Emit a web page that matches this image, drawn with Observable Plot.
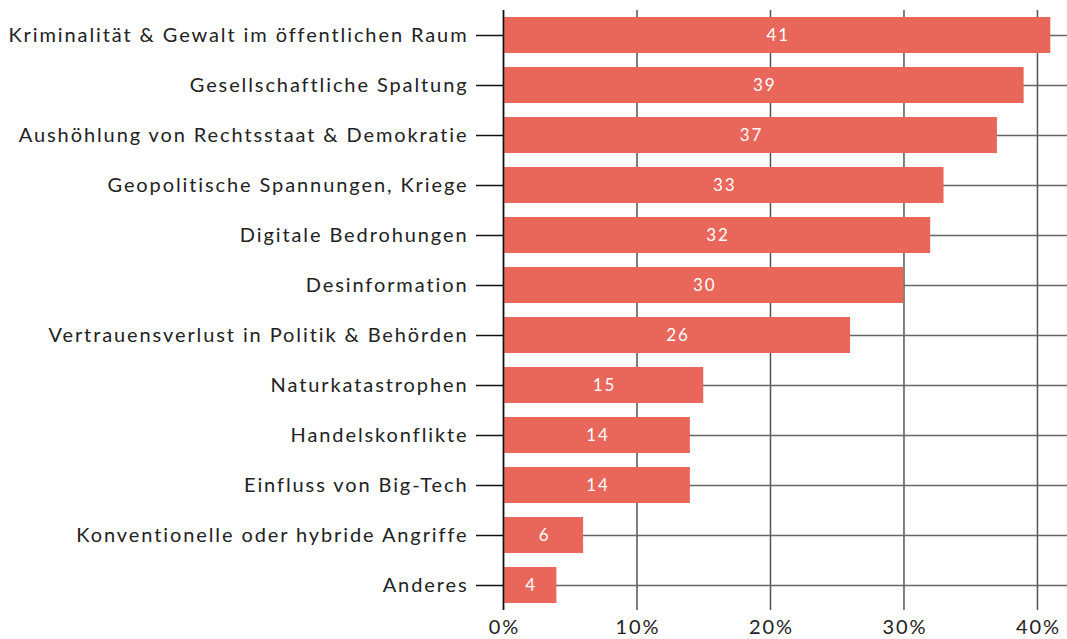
<!DOCTYPE html>
<html><head><meta charset="utf-8">
<script src="https://cdn.jsdelivr.net/npm/d3@7"></script>
<script src="https://cdn.jsdelivr.net/npm/@observablehq/plot@0.6"></script>
<style>body{margin:0;background:#fff}</style>
</head><body><div id="chart"></div>
<script>
const categories = [
  "Kriminalität & Gewalt im öffentlichen Raum",
  "Gesellschaftliche Spaltung",
  "Aushöhlung von Rechtsstaat & Demokratie",
  "Geopolitische Spannungen, Kriege",
  "Digitale Bedrohungen",
  "Desinformation",
  "Vertrauensverlust in Politik & Behörden",
  "Naturkatastrophen",
  "Handelskonflikte",
  "Einfluss von Big-Tech",
  "Konventionelle oder hybride Angriffe",
  "Anderes"
];
const values = [41, 39, 37, 33, 32, 30, 26, 15, 14, 14, 6, 4];
const xTicks = [0, 10, 20, 30, 40];

const data = categories.map((c, i) => ({category: c, value: values[i]}));
const font = "Lato, 'Open Sans', sans-serif";

const chart = Plot.plot({
  width: 1067,
  height: 639,
  marginLeft: 503,
  marginRight: 0,
  marginTop: 10,
  marginBottom: 29,
  style: {fontFamily: font, fontSize: "20px", color: "#222", background: "#fff", letterSpacing: "1.9px"},
  x: {domain: [0, 42.25], ticks: xTicks},
  y: {domain: categories, paddingInner: 0.28, paddingOuter: 0.14},
  marks: [
    Plot.gridX(xTicks, {stroke: "#555", strokeOpacity: 1, strokeWidth: 1.5}),
    Plot.ruleY(categories, {y: d => d, stroke: "#666", strokeWidth: 1.5}),
    Plot.barX(data, {x: "value", y: "category", fill: "#E8665A"}),
    Plot.ruleX([0], {stroke: "#111", strokeWidth: 1.5}),
    Plot.text(data, {x: d => d.value / 2, y: "category", text: d => String(d.value), fill: "#fff", fontSize: 17, dx: 1}),
    Plot.axisY({tickSize: 27, tickPadding: 8, stroke: "#111", strokeWidth: 1.5, label: null, fontSize: 20, fill: "#222"}),
    Plot.axisX(xTicks, {tickSize: 0, tickPadding: 9, tickFormat: d => d + "%", label: null, fontSize: 20, fill: "#222", dx: 1})
  ]
});
document.getElementById("chart").appendChild(chart);
</script>
</body></html>
